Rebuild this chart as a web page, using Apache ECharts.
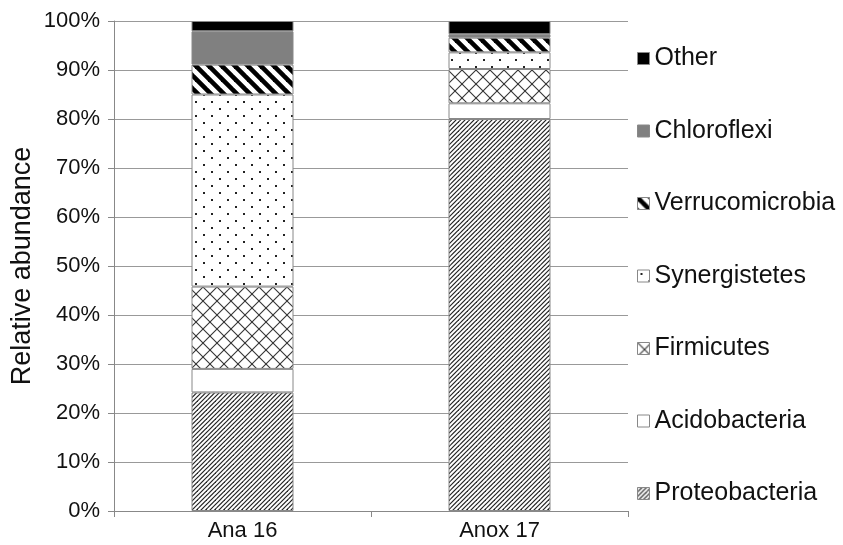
<!DOCTYPE html>
<html>
<head>
<meta charset="utf-8">
<script src="https://cdn.jsdelivr.net/npm/echarts@6/dist/echarts.min.js"></script>
<style>html,body{margin:0;padding:0;background:#fff;}#c{width:843px;height:545px;}</style>
</head>
<body>
<div id="c"></div>
<script>
const categories = ['Ana 16', 'Anox 17'];
const proteobacteria = [24.2, 80.0];
const acidobacteria = [4.8, 3.2];
const firmicutes = [16.8, 7.0];
const synergistetes = [39.2, 3.4];
const verrucomicrobia = [6.1, 3.0];
const chloroflexi = [6.8, 0.7];
const other = [2.1, 2.7];
const yTicks = [0, 10, 20, 30, 40, 50, 60, 70, 80, 90, 100];

function makeTile(w, h, draw) {
  const c = document.createElement('canvas');
  c.width = w; c.height = h;
  const g = c.getContext('2d');
  g.fillStyle = '#fff';
  g.fillRect(0, 0, w, h);
  draw(g, w, h);
  return { image: c, repeat: 'repeat' };
}
const patProteo = makeTile(9, 9, (g) => {
  g.strokeStyle = '#222'; g.lineWidth = 1.2;
  for (const c of [0, 4.5, 9, 13.5, 18]) {
    g.beginPath(); g.moveTo(c + 2, -2); g.lineTo(c - 11, 11); g.stroke();
  }
});
const patCross = makeTile(14, 14, (g) => {
  g.strokeStyle = '#333'; g.lineWidth = 1.1;
  for (const c of [0, 14, 28]) {
    g.beginPath(); g.moveTo(c + 2, -2); g.lineTo(c - 16, 16); g.stroke();
  }
  for (const c of [-14, 0, 14]) {
    g.beginPath(); g.moveTo(c - 2, -2); g.lineTo(c + 16, 16); g.stroke();
  }
});
const patDots = makeTile(16, 14, (g) => {
  g.fillStyle = '#222';
  g.fillRect(3, 3, 2, 2);
  g.fillRect(11, 10, 2, 2);
});
const patStripes = makeTile(13, 13, (g) => {
  g.strokeStyle = '#000'; g.lineWidth = 4.6;
  for (const c of [-13, 0, 13]) {
    g.beginPath(); g.moveTo(c - 3, -3); g.lineTo(c + 16, 16); g.stroke();
  }
});

const seriesDefs = [
  ['Proteobacteria', proteobacteria, patProteo],
  ['Acidobacteria', acidobacteria, '#ffffff'],
  ['Firmicutes', firmicutes, patCross],
  ['Synergistetes', synergistetes, patDots],
  ['Verrucomicrobia', verrucomicrobia, patStripes],
  ['Chloroflexi', chloroflexi, '#808080'],
  ['Other', other, '#000000']
];

const chart = echarts.init(document.getElementById('c'), null, { renderer: 'canvas' });
const font = 'Liberation Sans, Arial, sans-serif';
chart.setOption({
  animation: false,
  backgroundColor: '#fff',
  textStyle: { fontFamily: font },
  grid: { left: 114, right: 215, top: 21, bottom: 34, containLabel: false, outerBoundsMode: 'none' },
  legend: {
    orient: 'vertical',
    left: 632,
    top: 41,
    icon: 'rect',
    itemWidth: 12,
    itemHeight: 12,
    itemGap: 47.5,
    data: seriesDefs.map(d => d[0]).reverse(),
    textStyle: { fontSize: 25, color: '#111', fontFamily: font },
    itemStyle: { borderColor: '#888', borderWidth: 1 }
  },
  xAxis: {
    type: 'category',
    data: categories,
    axisLine: { lineStyle: { color: '#888', width: 1 } },
    axisTick: { show: true, length: 6, lineStyle: { color: '#888' } },
    axisLabel: { fontSize: 22, color: '#111', margin: 9 }
  },
  yAxis: {
    type: 'value',
    min: yTicks[0],
    max: yTicks[yTicks.length - 1],
    interval: 10,
    name: 'Relative abundance',
    nameLocation: 'middle',
    nameGap: 78,
    nameMoveOverlap: false,
    nameTextStyle: { fontSize: 27, color: '#111' },
    axisLine: { show: true, lineStyle: { color: '#888', width: 1 } },
    axisTick: { show: true, length: 6, lineStyle: { color: '#888' } },
    axisLabel: { fontSize: 22, color: '#111', formatter: '{value}%', margin: 14 },
    splitLine: { show: true, lineStyle: { color: '#999', width: 1 } }
  },
  series: seriesDefs.map(([name, data, col]) => ({
    name: name,
    type: 'bar',
    stack: 'total',
    barWidth: 102,
    data: data,
    itemStyle: { color: col, borderColor: '#888', borderWidth: 1 },
    emphasis: { disabled: true }
  }))
});
</script>
</body>
</html>
